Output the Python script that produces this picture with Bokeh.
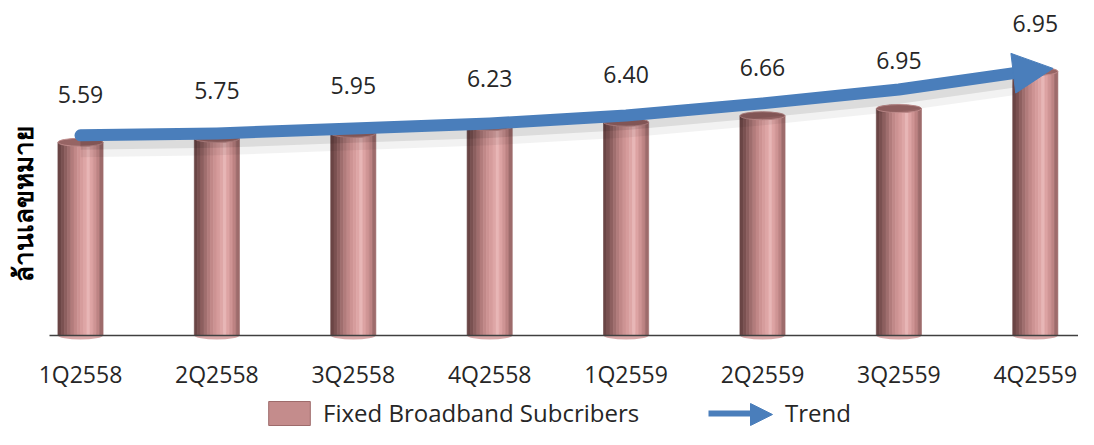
import math
from bokeh.plotting import figure
from bokeh.models import (Range1d, LinearAxis, FixedTicker, Label, Arrow, NormalHead,
                          Legend, LegendItem)
from bokeh.core.properties import value
from bokeh.embed import file_html
from bokeh.resources import INLINE

# ---------------- data ----------------
categories = ["1Q2558", "2Q2558", "3Q2558", "4Q2558", "1Q2559", "2Q2559", "3Q2559", "4Q2559"]
subscribers = [5.59, 5.75, 5.95, 6.23, 6.40, 6.66, 6.95, 8.45]          # bar heights as drawn
value_labels = ["5.59", "5.75", "5.95", "6.23", "6.40", "6.66", "6.95", "6.95"]  # printed labels
trend_x = [0, 1, 2, 3, 4, 5, 6, 6.83]
trend_y = [5.87, 5.95, 6.15, 6.35, 6.67, 7.16, 7.72, 8.37]
trend_tip = [7.13, 8.57]
y_title = "ล้านเลขหมาย"
series_name = "Fixed Broadband Subcribers"
trend_name = "Trend"

# ---------------- layout / style ----------------
W, H = 1078, 429
X0_PX, DX_PX = 80.0, 136.4      # screen x of first category, category spacing
BASE_PX, DY_PX = 335.0, 24.8    # screen y of chart floor, px per unit
BASE = -2.2                     # value at the chart floor
BW = 0.33                       # cylinder width (category units)
BLUE = "#4A7EBB"
FONT = "Open Sans"
shades = ["#6A4545", "#7A5151", "#8D5F5F", "#A06E6E", "#B27C7C", "#C18888", "#CD9393",
          "#D69C9C", "#DEA6A6", "#E8B6B6", "#DDA3A3", "#CF9494", "#BD8383", "#9E6B6B"]


def sx(px):   # screen px -> category coordinate
    return (px - X0_PX) / DX_PX


def sy(py):   # screen px (from top) -> value coordinate
    return BASE + (BASE_PX - py) / DY_PX


xs = list(range(len(categories)))

p = figure(width=W, height=H, x_range=Range1d(sx(0), sx(W)), y_range=Range1d(sy(H), sy(0)),
           x_axis_type=None, y_axis_type=None, output_backend="svg", toolbar_location=None,
           min_border=0, outline_line_color=None)

# cylinder bottoms
p.ellipse(x=xs, y=[BASE] * len(xs), width=BW, height=8, height_units="screen",
          fill_color="#D9A8A8", line_color=None)

# cylinder bodies drawn as vertical shading stripes
n = len(shades)
stripe_w = BW / n
for k, c in enumerate(shades):
    off = -BW / 2 + (k + 0.5) * stripe_w
    p.vbar(x=[x + off for x in xs], bottom=BASE, top=subscribers, width=stripe_w * 1.05,
           fill_color=c, line_color=c, line_width=0.6)

# cylinder tops
p.ellipse(x=xs, y=subscribers, width=BW, height=8, height_units="screen",
          fill_color="#966464", line_color="#BE8A8A", line_width=1)

# axis (category baseline)
xaxis = LinearAxis(fixed_location=BASE, ticker=FixedTicker(ticks=xs),
                   major_label_overrides={i: c for i, c in enumerate(categories)},
                   bounds=(sx(49), sx(W)),
                   major_tick_in=0, major_tick_out=0, minor_tick_in=0, minor_tick_out=0,
                   axis_line_color="#404040", axis_line_width=1.5,
                   major_label_standoff=22,
                   major_label_text_font=FONT, major_label_text_font_size="23px",
                   major_label_text_color="#262626")
p.add_layout(xaxis, "below")

# trend arrow with soft shadow
p.line(trend_x, [y - 0.40 for y in trend_y], line_width=24, color="#000000", alpha=0.05,
       line_join="round")
p.line(trend_x, [y - 0.26 for y in trend_y], line_width=16, color="#000000", alpha=0.09,
       line_join="round")
p.line(trend_x, trend_y, line_width=12, color=BLUE, line_join="round", line_cap="round")
p.add_layout(Arrow(end=NormalHead(size=40, fill_color=BLUE, line_color=BLUE, line_width=1),
                   x_start=trend_x[-1], y_start=trend_y[-1],
                   x_end=trend_tip[0], y_end=trend_tip[1], line_alpha=0))

# value labels
p.text(x=xs, y=subscribers, text=value_labels, text_align="center", text_baseline="middle",
       y_offset=-48, text_font=value(FONT), text_font_size="23px", text_color="#262626")

# y title
p.add_layout(Label(x=sx(22), y=sy(203), text=y_title, angle=math.pi / 2, text_align="center",
                   text_baseline="middle", text_font_style="bold", text_font_size="26px",
                   text_font="Noto Sans", text_color="#000000"))

# legends (renderers not drawn in the plot, shown only as legend glyphs)
leg_bar = p.vbar(x=xs, top=subscribers, width=BW, fill_color="#C48C8C", line_color="#9E6B6B",
                 visible=False)
leg_line = p.line(x=trend_x, y=trend_y, line_width=6, color=BLUE, visible=False)

LEG_CY = 414  # screen y of legend row centre
common = dict(orientation="horizontal", padding=0, margin=0, glyph_height=30,
              label_text_font=FONT, label_text_font_size="24px", label_text_color="#262626",
              border_line_alpha=0, background_fill_alpha=0,
              inactive_fill_alpha=0)
legend1 = Legend(items=[LegendItem(label=series_name, renderers=[leg_bar])],
                 location=(263, H - LEG_CY - 15), glyph_width=52, label_standoff=8, **common)
legend2 = Legend(items=[LegendItem(label=trend_name, renderers=[leg_line])],
                 location=(708, H - LEG_CY - 15), glyph_width=42, label_standoff=35, **common)
p.add_layout(legend1)
p.add_layout(legend2)
p.add_layout(Arrow(end=NormalHead(size=22, fill_color=BLUE, line_color=BLUE, line_width=1),
                   x_start=sx(748), y_start=sy(LEG_CY), x_end=sx(772), y_end=sy(LEG_CY),
                   line_alpha=0))

open("out.html", "w").write(file_html(p, INLINE))
